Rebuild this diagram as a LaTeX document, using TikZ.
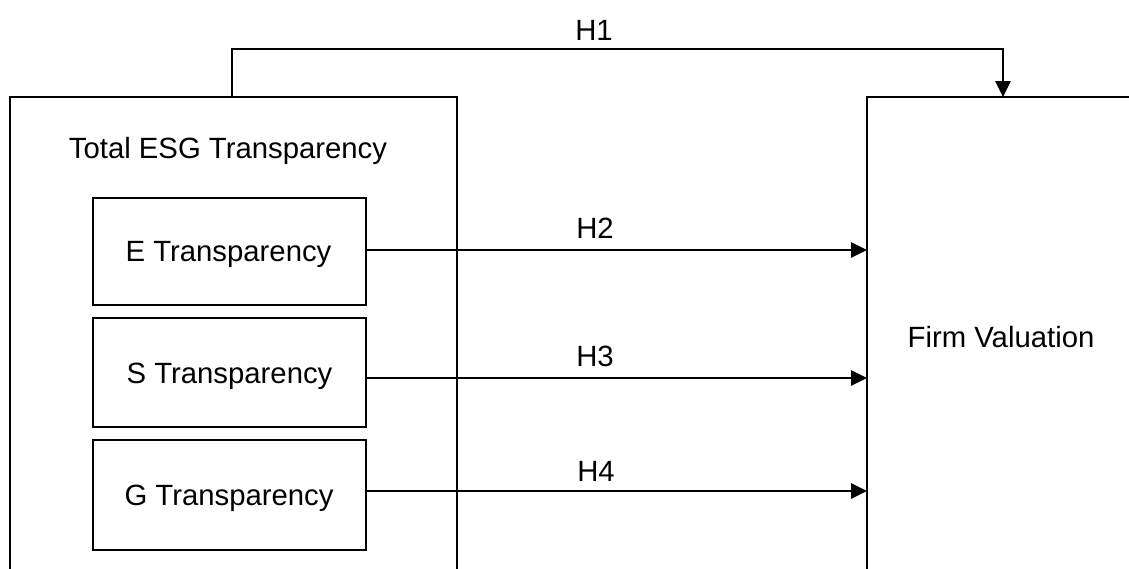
\documentclass[tikz,border=0pt]{standalone}
\usepackage{fontspec}
\setmainfont{Liberation Sans}
\usetikzlibrary{arrows.meta,calc}
\begin{document}
\begin{tikzpicture}[x=0.5pt,y=-0.5pt,
  box/.style={draw,line width=1.4pt,inner sep=0pt,outer sep=0pt,rectangle},
  lbl/.style={font=\fontsize{14.65}{17}\selectfont,inner sep=0pt,anchor=base},
  arr/.style={line width=1.4pt,-{Triangle[length=8pt,width=7.5pt]}}]
\useasboundingbox (0,0) rectangle (1129,568);
\clip (0,0) rectangle (1129,568);
% big boxes (cut by the picture edges)
\node[box,minimum width=223.5pt,minimum height=261.5pt] (total) at (233.5,358.5) {};
\node[box,minimum width=156.5pt,minimum height=261.5pt] (firm) at (1023.5,358.5) {};
% inner boxes
\node[box,minimum width=136.5pt,minimum height=53.5pt] (ebox) at (229.5,251.5) {};
\node[box,minimum width=136.5pt,minimum height=54.5pt] (sbox) at (229.5,372.5) {};
\node[box,minimum width=136.5pt,minimum height=55pt] (gbox) at (229.5,495) {};
% texts
\node[lbl] (ttot) at (228,158) {Total ESG Transparency};
\node[lbl] (te) at (228.5,261) {E Transparency};
\node[lbl] (ts) at (229.5,383) {S Transparency};
\node[lbl] (tg) at (229,505) {G Transparency};
\node[lbl] (tf) at (1001,347) {Firm Valuation};
\node[lbl] (h1) at (594,40) {H1};
\node[lbl] (h2) at (595,238) {H2};
\node[lbl] (h3) at (595,366) {H3};
\node[lbl] (h4) at (596,481) {H4};
% connectors
\coordinate (h1s) at ($(total.north west)+(222,0)$);
\coordinate (h1e) at ($(firm.north west)+(136,0)$);
\draw[arr] (h1s) -- ++(0,-48) -| (h1e);
\draw[arr] ([yshift=0.75pt]ebox.east) -- ([yshift=0.75pt]ebox.east -| firm.west);
\draw[arr] ([yshift=-2.75pt]sbox.east) -- ([yshift=-2.75pt]sbox.east -| firm.west);
\draw[arr] ([yshift=2pt]gbox.east) -- ([yshift=2pt]gbox.east -| firm.west);
\end{tikzpicture}
\end{document}
